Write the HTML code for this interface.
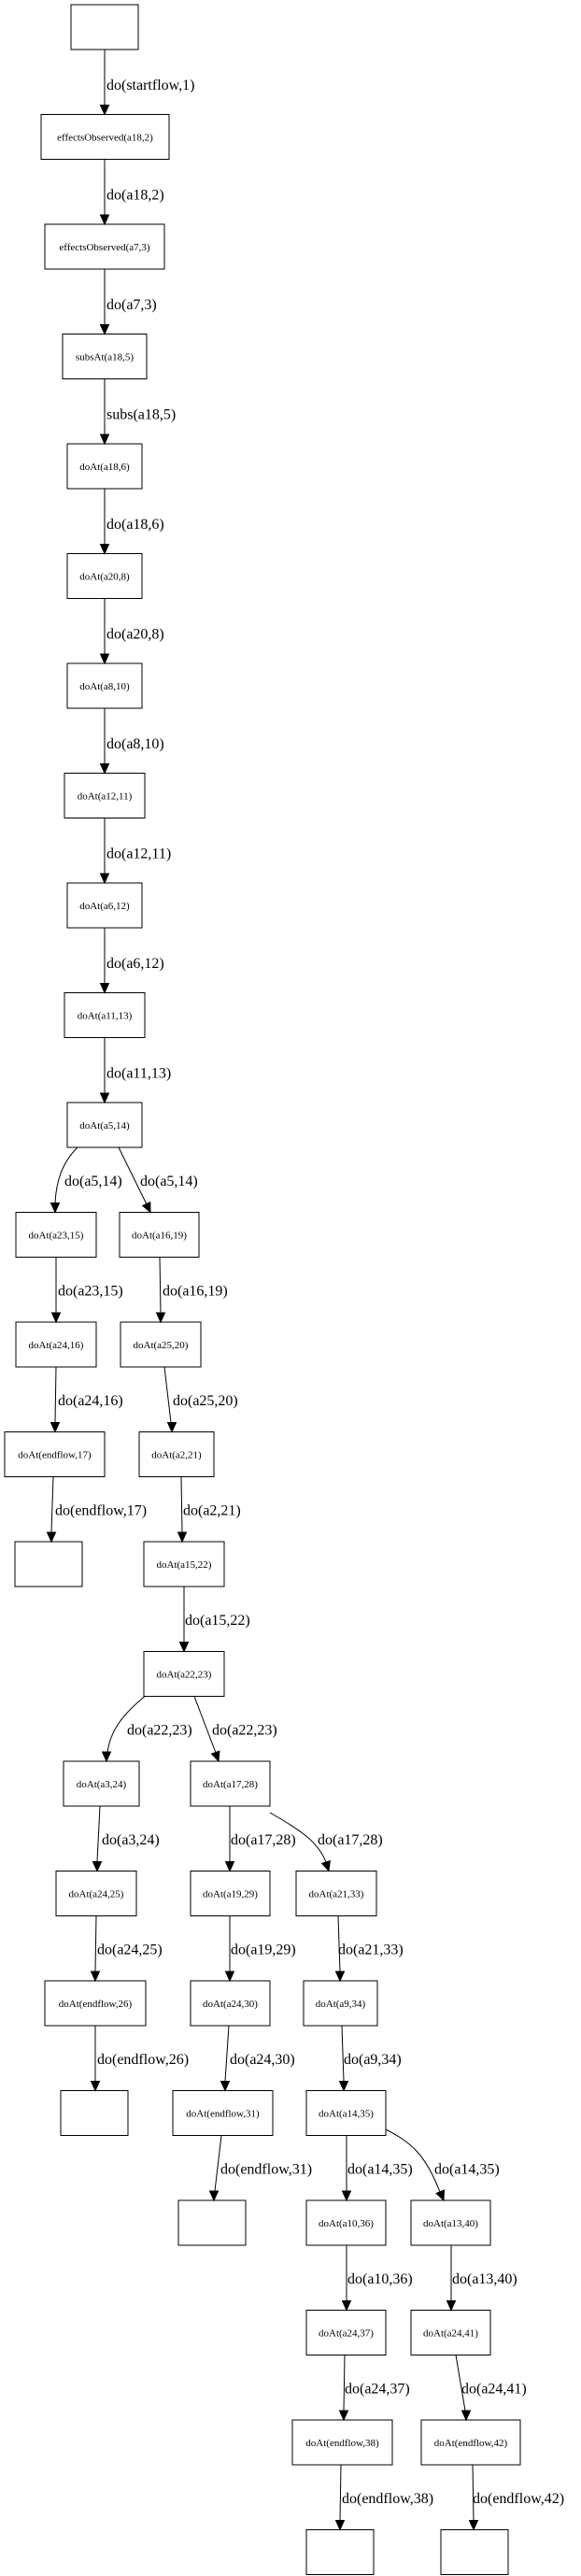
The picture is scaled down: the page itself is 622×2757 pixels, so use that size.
<!DOCTYPE html>
<html><head><meta charset="utf-8"><style>
html,body{margin:0;padding:0;background:#fff}
svg{display:block}
.n{fill:#fff;stroke:#000;stroke-width:1}
.t{font-family:"Liberation Serif",serif;font-size:11px;text-anchor:middle}
.l{font-family:"Liberation Serif",serif;font-size:16px}
.e{fill:none;stroke:#000;stroke-width:1}
</style></head><body>
<svg width="622" height="2757" viewBox="0 0 622 2757" xmlns="http://www.w3.org/2000/svg">
<!-- nodes -->
<rect class="n" x="76" y="5" width="72" height="48"/>
<rect class="n" x="44" y="122.5" width="137" height="48"/><text class="t" x="112.5" y="150.5">effectsObserved(a18,2)</text>
<rect class="n" x="48" y="240" width="128" height="48"/><text class="t" x="112" y="268">effectsObserved(a7,3)</text>
<rect class="n" x="67" y="357.5" width="90" height="48"/><text class="t" x="112" y="385.5">subsAt(a18,5)</text>
<rect class="n" x="72" y="475" width="80" height="48"/><text class="t" x="112" y="503">doAt(a18,6)</text>
<rect class="n" x="72" y="592.5" width="80" height="48"/><text class="t" x="112" y="620.5">doAt(a20,8)</text>
<rect class="n" x="72" y="710" width="80" height="48"/><text class="t" x="112" y="738">doAt(a8,10)</text>
<rect class="n" x="69" y="827.5" width="86" height="48"/><text class="t" x="112" y="855.5">doAt(a12,11)</text>
<rect class="n" x="72" y="945" width="80" height="48"/><text class="t" x="112" y="973">doAt(a6,12)</text>
<rect class="n" x="69" y="1062.5" width="86" height="48"/><text class="t" x="112" y="1090.5">doAt(a11,13)</text>
<rect class="n" x="72" y="1180" width="80" height="48"/><text class="t" x="112" y="1208">doAt(a5,14)</text>
<rect class="n" x="17" y="1297.5" width="86" height="48"/><text class="t" x="60" y="1325.5">doAt(a23,15)</text>
<rect class="n" x="128" y="1297.5" width="85" height="48"/><text class="t" x="170.5" y="1325.5">doAt(a16,19)</text>
<rect class="n" x="17" y="1415" width="86" height="48"/><text class="t" x="60" y="1443">doAt(a24,16)</text>
<rect class="n" x="129" y="1415" width="86" height="48"/><text class="t" x="172" y="1443">doAt(a25,20)</text>
<rect class="n" x="5" y="1532.5" width="107" height="48"/><text class="t" x="58.5" y="1560.5">doAt(endflow,17)</text>
<rect class="n" x="149" y="1532.5" width="80" height="48"/><text class="t" x="189" y="1560.5">doAt(a2,21)</text>
<rect class="n" x="16" y="1650" width="72" height="48"/>
<rect class="n" x="154" y="1650" width="86" height="48"/><text class="t" x="197" y="1678">doAt(a15,22)</text>
<rect class="n" x="154" y="1767.5" width="86" height="48"/><text class="t" x="197" y="1795.5">doAt(a22,23)</text>
<rect class="n" x="68" y="1885" width="81" height="48"/><text class="t" x="108.5" y="1913">doAt(a3,24)</text>
<rect class="n" x="204" y="1885" width="85" height="48"/><text class="t" x="246.5" y="1913">doAt(a17,28)</text>
<rect class="n" x="60" y="2002.5" width="86" height="48"/><text class="t" x="103" y="2030.5">doAt(a24,25)</text>
<rect class="n" x="204" y="2002.5" width="85" height="48"/><text class="t" x="246.5" y="2030.5">doAt(a19,29)</text>
<rect class="n" x="317" y="2002.5" width="86" height="48"/><text class="t" x="360" y="2030.5">doAt(a21,33)</text>
<rect class="n" x="48" y="2120" width="108" height="48"/><text class="t" x="102" y="2148">doAt(endflow,26)</text>
<rect class="n" x="204" y="2120" width="85" height="48"/><text class="t" x="246.5" y="2148">doAt(a24,30)</text>
<rect class="n" x="325" y="2120" width="79" height="48"/><text class="t" x="364.5" y="2148">doAt(a9,34)</text>
<rect class="n" x="65" y="2237.5" width="72" height="48"/>
<rect class="n" x="185" y="2237.5" width="107" height="48"/><text class="t" x="238.5" y="2265.5">doAt(endflow,31)</text>
<rect class="n" x="328" y="2237.5" width="85" height="48"/><text class="t" x="370.5" y="2265.5">doAt(a14,35)</text>
<rect class="n" x="191" y="2355" width="72" height="48"/>
<rect class="n" x="328" y="2355" width="85" height="48"/><text class="t" x="370.5" y="2383">doAt(a10,36)</text>
<rect class="n" x="440" y="2355" width="85" height="48"/><text class="t" x="482.5" y="2383">doAt(a13,40)</text>
<rect class="n" x="328" y="2472.5" width="85" height="48"/><text class="t" x="370.5" y="2500.5">doAt(a24,37)</text>
<rect class="n" x="440" y="2472.5" width="85" height="48"/><text class="t" x="482.5" y="2500.5">doAt(a24,41)</text>
<rect class="n" x="313" y="2590" width="107" height="48"/><text class="t" x="366.5" y="2618">doAt(endflow,38)</text>
<rect class="n" x="451" y="2590" width="106" height="48"/><text class="t" x="504" y="2618">doAt(endflow,42)</text>
<rect class="n" x="328" y="2707.5" width="72" height="48"/>
<rect class="n" x="472" y="2707.5" width="72" height="48"/>

<!-- edges -->
<g class="e">
<path d="M112,53 L112,113"/>
<path d="M112,170.5 L112,230"/>
<path d="M112,288 L112,347.5"/>
<path d="M112,405.5 L112,465"/>
<path d="M112,523 L112,582.5"/>
<path d="M112,640.5 L112,700"/>
<path d="M112,758 L112,817.5"/>
<path d="M112,875.5 L112,935"/>
<path d="M112,993 L112,1052.5"/>
<path d="M112,1110.5 L112,1170"/>
<path d="M83,1228 C66,1245 60,1265 59,1288"/>
<path d="M127,1228 L157,1289"/>
<path d="M60,1345.5 L60,1405"/>
<path d="M171,1345.5 L172,1405"/>
<path d="M60,1463 L59,1522.5"/>
<path d="M176,1463 L183,1522.5"/>
<path d="M57,1580.5 L55,1640"/>
<path d="M194,1580.5 L195,1640"/>
<path d="M197,1698 L197,1757.5"/>
<path d="M155,1815.5 C135,1832 118,1850 115,1876"/>
<path d="M208,1815.5 L231,1876"/>
<path d="M107,1933 L104,1992.5"/>
<path d="M246,1933 L246,1992.5"/>
<path d="M289,1940 C320,1958 340,1970 349,1993"/>
<path d="M103,2050.5 L102,2110"/>
<path d="M246,2050.5 L246,2110"/>
<path d="M362,2050.5 L364,2110"/>
<path d="M102,2168 L102,2227.5"/>
<path d="M245,2168 L241,2227.5"/>
<path d="M366,2168 L368,2227.5"/>
<path d="M237,2285.5 L230,2345"/>
<path d="M371,2285.5 L371,2345"/>
<path d="M413,2279 C440,2293 455,2305 471,2346"/>
<path d="M371,2403 L371,2462.5"/>
<path d="M483,2403 L483,2462.5"/>
<path d="M369,2520.5 L368,2580"/>
<path d="M488,2520.5 L498,2580"/>
<path d="M365,2638 L364,2697.5"/>
<path d="M506,2638 L507,2697.5"/>
</g>
<!-- arrowheads -->
<g fill="#000" stroke="#000" stroke-width="1">
<polygon points="112,122.5 107.5,112.5 116.5,112.5"/>
<polygon points="112,240 107.5,230 116.5,230"/>
<polygon points="112,357.5 107.5,347.5 116.5,347.5"/>
<polygon points="112,475 107.5,465 116.5,465"/>
<polygon points="112,592.5 107.5,582.5 116.5,582.5"/>
<polygon points="112,710 107.5,700 116.5,700"/>
<polygon points="112,827.5 107.5,817.5 116.5,817.5"/>
<polygon points="112,945 107.5,935 116.5,935"/>
<polygon points="112,1062.5 107.5,1052.5 116.5,1052.5"/>
<polygon points="112,1180 107.5,1170 116.5,1170"/>
<polygon points="59,1297.5 54.5,1287.5 63.5,1287.5"/>
<polygon points="161,1297.5 160.8,1286.6 152.7,1290.4"/>
<polygon points="60,1415 55.5,1405 64.5,1405"/>
<polygon points="172,1415 167.5,1405 176.5,1405"/>
<polygon points="59,1532.5 54.5,1522.5 63.5,1522.5"/>
<polygon points="184,1532.5 179.5,1522.5 188.5,1522.5"/>
<polygon points="55,1650 50.5,1640 59.5,1640"/>
<polygon points="195,1650 190.5,1640 199.5,1640"/>
<polygon points="197,1767.5 192.5,1757.5 201.5,1757.5"/>
<polygon points="114,1885 109.5,1875 118.5,1875"/>
<polygon points="234,1885 234.9,1874.1 226.5,1877.1"/>
<polygon points="104,2002.5 99.5,1992.5 108.5,1992.5"/>
<polygon points="246,2002.5 241.5,1992.5 250.5,1992.5"/>
<polygon points="352,2002.5 353.3,1991.6 344.7,1994.4"/>
<polygon points="102,2120 97.5,2110 106.5,2110"/>
<polygon points="246,2120 241.5,2110 250.5,2110"/>
<polygon points="364,2120 359.5,2110 368.5,2110"/>
<polygon points="102,2237.5 97.5,2227.5 106.5,2227.5"/>
<polygon points="241,2237.5 236.5,2227.5 245.5,2227.5"/>
<polygon points="368,2237.5 363.5,2227.5 372.5,2227.5"/>
<polygon points="229,2355 224.5,2345 233.5,2345"/>
<polygon points="371,2355 366.5,2345 375.5,2345"/>
<polygon points="475,2355 475.5,2344 467.1,2347.4"/>
<polygon points="371,2472.5 366.5,2462.5 375.5,2462.5"/>
<polygon points="483,2472.5 478.5,2462.5 487.5,2462.5"/>
<polygon points="368,2590 363.5,2580 372.5,2580"/>
<polygon points="499,2590 494.5,2580 503.5,2580"/>
<polygon points="364,2707.5 359.5,2697.5 368.5,2697.5"/>
<polygon points="507,2707.5 502.5,2697.5 511.5,2697.5"/>
</g>
<!-- edge labels -->
<g class="l">
<text x="114" y="96">do(startflow,1)</text>
<text x="114" y="213.5">do(a18,2)</text>
<text x="114" y="331">do(a7,3)</text>
<text x="114" y="448.5">subs(a18,5)</text>
<text x="114" y="566">do(a18,6)</text>
<text x="114" y="683.5">do(a20,8)</text>
<text x="114" y="801">do(a8,10)</text>
<text x="114" y="918.5">do(a12,11)</text>
<text x="114" y="1036">do(a6,12)</text>
<text x="114" y="1153.5">do(a11,13)</text>
<text x="69" y="1269">do(a5,14)</text>
<text x="150" y="1269">do(a5,14)</text>
<text x="62" y="1386.5">do(a23,15)</text>
<text x="174" y="1386.5">do(a16,19)</text>
<text x="62" y="1504">do(a24,16)</text>
<text x="185" y="1504">do(a25,20)</text>
<text x="59" y="1621.5">do(endflow,17)</text>
<text x="196" y="1621.5">do(a2,21)</text>
<text x="198" y="1739">do(a15,22)</text>
<text x="136" y="1856.5">do(a22,23)</text>
<text x="227" y="1856.5">do(a22,23)</text>
<text x="109" y="1974">do(a3,24)</text>
<text x="247" y="1974">do(a17,28)</text>
<text x="340" y="1974">do(a17,28)</text>
<text x="104" y="2091.5">do(a24,25)</text>
<text x="247" y="2091.5">do(a19,29)</text>
<text x="362" y="2091.5">do(a21,33)</text>
<text x="104" y="2209">do(endflow,26)</text>
<text x="246" y="2209">do(a24,30)</text>
<text x="368" y="2209">do(a9,34)</text>
<text x="236" y="2326.5">do(endflow,31)</text>
<text x="372" y="2326.5">do(a14,35)</text>
<text x="465" y="2326.5">do(a14,35)</text>
<text x="372" y="2444">do(a10,36)</text>
<text x="484" y="2444">do(a13,40)</text>
<text x="369" y="2561.5">do(a24,37)</text>
<text x="494" y="2561.5">do(a24,41)</text>
<text x="366" y="2679">do(endflow,38)</text>
<text x="506" y="2679">do(endflow,42)</text>
</g>
</svg>
</body></html>
